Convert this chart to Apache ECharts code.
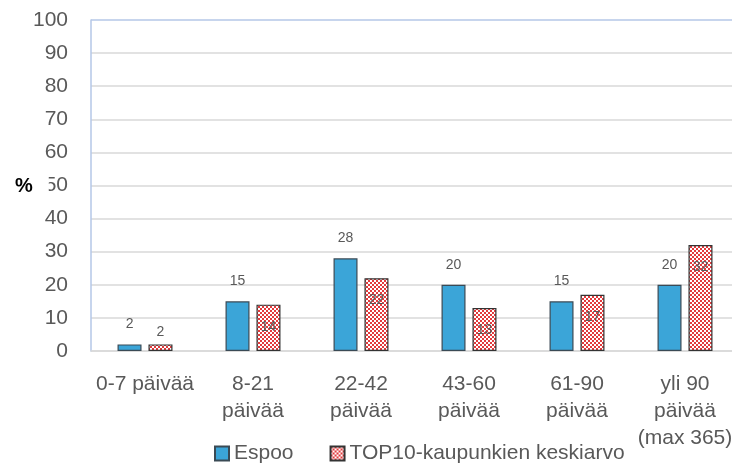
<!DOCTYPE html>
<html>
<head>
<meta charset="utf-8">
<script src="https://cdn.jsdelivr.net/npm/echarts@6/dist/echarts.min.js"></script>
<style>
  html, body { margin: 0; padding: 0; background: #fff; overflow: hidden; }
  #chart { width: 740px; height: 467px; }
</style>
</head>
<body>
<div id="chart"></div>
<script>
var categories = ['0-7 päivää', '8-21\npäivää', '22-42\npäivää', '43-60\npäivää', '61-90\npäivää', 'yli 90\npäivää\n(max 365)'];
var espoo = [2, 15, 28, 20, 15, 20];
var top10 = [2, 14, 22, 13, 17, 32];
var seriesNames = ['Espoo', 'TOP10-kaupunkien keskiarvo'];

var font = 'Liberation Sans';
var grey = '#595959';

// punavalkoinen ruutukuvio
var makePattern = function () {
    var c = document.createElement('canvas');
    c.width = 4; c.height = 4;
    var ctx = c.getContext('2d');
    ctx.fillStyle = '#ffffff';
    ctx.fillRect(0, 0, 4, 4);
    ctx.fillStyle = '#e23a3c';
    ctx.fillRect(0, 0, 2, 2);
    ctx.fillRect(2, 2, 2, 2);
    return c;
};

var top10Data = top10.map(function (v) {
    if (v < 5) {
        return { value: v, label: { position: 'top', distance: 5 } };
    }
    return v;
});

var gridColors = [];
for (var i = 0; i < 10; i++) gridColors.push('#d9d9d9');
gridColors.push('#b4c7e7');

var myChart = echarts.init(document.getElementById('chart'));
var option = {
    animation: false,
    backgroundColor: '#fff',
    grid: { left: 91, right: 1, top: 20, bottom: 116 },
    legend: {
        data: seriesNames,
        left: 214,
        top: 443,
        padding: 0,
        itemWidth: 14,
        itemHeight: 14,
        itemGap: 36,
        icon: 'rect',
        textStyle: { fontFamily: font, fontSize: 21, color: grey }
    },
    xAxis: {
        type: 'category',
        data: categories,
        axisLine: { lineStyle: { color: '#d9d9d9', width: 1.5 } },
        axisTick: { show: false },
        axisLabel: {
            interval: 0,
            margin: 20,
            fontFamily: font,
            fontSize: 21,
            lineHeight: 27,
            color: grey
        }
    },
    yAxis: {
        type: 'value',
        min: 0,
        max: 100,
        interval: 10,
        axisLine: { show: true, lineStyle: { color: '#b4c7e7', width: 1.5 } },
        axisTick: { show: false },
        splitLine: { lineStyle: { color: gridColors, width: 1.5 } },
        axisLabel: { margin: 23, fontFamily: font, fontSize: 21, color: grey }
    },
    graphic: [{
        type: 'text',
        left: 15,
        top: 174,
        z: 1000,
        zlevel: 1,
        style: {
            text: '%',
            font: 'bold 20px "Liberation Sans"',
            fill: '#000',
            backgroundColor: '#fff',
            padding: [2, 16, 2, 0]
        }
    }],
    series: [{
        name: seriesNames[0],
        type: 'bar',
        data: espoo,
        barWidth: 24,
        barGap: '29%',
        itemStyle: { color: '#3ba5d8', borderColor: '#3a4a55', borderWidth: 1.2 },
        label: {
            show: true,
            position: 'top',
            distance: 13,
            fontFamily: font,
            fontSize: 14,
            color: grey
        }
    }, {
        name: seriesNames[1],
        type: 'bar',
        data: top10Data,
        barWidth: 24,
        itemStyle: {
            color: { image: makePattern(), repeat: 'repeat' },
            borderColor: '#333333',
            borderWidth: 1.2
        },
        label: {
            show: true,
            position: 'insideTop',
            distance: 15,
            fontFamily: font,
            fontSize: 14,
            color: grey
        }
    }]
};
myChart.setOption(option);
</script>
</body>
</html>
